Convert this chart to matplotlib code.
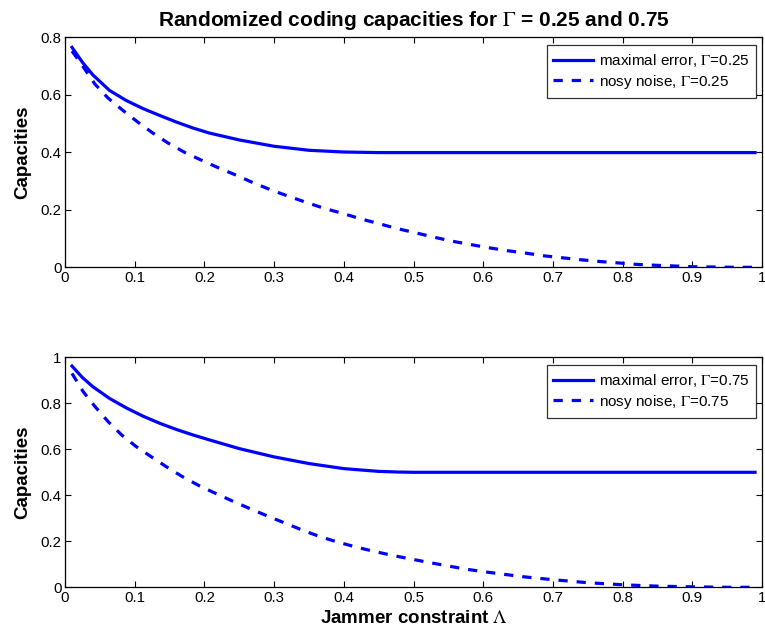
import matplotlib
matplotlib.use("Agg")
import matplotlib.pyplot as plt

plt.rcParams['font.family'] = ['Liberation Sans', 'DejaVu Sans']
plt.rcParams['mathtext.fontset'] = 'stix'

# ---- data ----
lam_max1 = [0.01, 0.025, 0.04, 0.064, 0.088, 0.112, 0.136, 0.16, 0.183, 0.207, 0.25, 0.30, 0.35, 0.40,
            0.45, 0.50, 0.60, 0.70, 0.80, 0.90, 0.99]
cap_max1 = [0.765, 0.713, 0.669, 0.615, 0.580, 0.552, 0.528, 0.505, 0.485, 0.467, 0.443, 0.421, 0.407, 0.401,
            0.399, 0.399, 0.399, 0.399, 0.399, 0.399, 0.399]

lam_nn1 = [0.01, 0.014, 0.029, 0.043, 0.062, 0.083, 0.105, 0.126, 0.148, 0.173, 0.198, 0.222, 0.247, 0.271, 0.299,
           0.322, 0.347, 0.372, 0.399, 0.425, 0.450, 0.476, 0.503, 0.529, 0.555, 0.582, 0.608, 0.634, 0.662,
           0.687, 0.714, 0.741, 0.768, 0.795, 0.821, 0.848, 0.875, 0.902, 0.930, 0.96, 0.99]
cap_nn1 = [0.752, 0.739, 0.687, 0.637, 0.588, 0.546, 0.504, 0.467, 0.432, 0.398, 0.370, 0.344, 0.319, 0.293, 0.266,
           0.246, 0.225, 0.205, 0.187, 0.168, 0.152, 0.135, 0.120, 0.105, 0.091, 0.079, 0.068, 0.058, 0.049,
           0.040, 0.033, 0.026, 0.020, 0.015, 0.010, 0.007, 0.0045, 0.002, 0.001, 0.0, 0.0]

lam_max2 = [0.01, 0.025, 0.04, 0.064, 0.088, 0.112, 0.136, 0.16, 0.183, 0.207, 0.25, 0.30, 0.35, 0.40,
            0.45, 0.48, 0.50, 0.60, 0.70, 0.80, 0.90, 0.99]
cap_max2 = [0.962, 0.912, 0.872, 0.821, 0.780, 0.744, 0.713, 0.686, 0.663, 0.641, 0.603, 0.567, 0.538, 0.516,
            0.504, 0.501, 0.500, 0.500, 0.500, 0.500, 0.500, 0.500]

lam_nn2 = [0.01, 0.026, 0.043, 0.062, 0.081, 0.102, 0.124, 0.145, 0.169, 0.193, 0.217, 0.244, 0.270, 0.296,
           0.315, 0.341, 0.366, 0.393, 0.419, 0.445, 0.471, 0.498, 0.524, 0.551, 0.577, 0.603, 0.631, 0.657,
           0.70, 0.75, 0.80, 0.85, 0.90, 0.95, 0.99]
cap_nn2 = [0.930, 0.851, 0.786, 0.720, 0.663, 0.612, 0.567, 0.525, 0.480, 0.441, 0.407, 0.370, 0.336, 0.303,
           0.280, 0.248, 0.220, 0.195, 0.174, 0.155, 0.138, 0.122, 0.107, 0.092, 0.078, 0.067, 0.056, 0.046,
           0.033, 0.020, 0.011, 0.005, 0.002, 0.0, 0.0]

xticks = [0, 0.1, 0.2, 0.3, 0.4, 0.5, 0.6, 0.7, 0.8, 0.9, 1]
xticklabels = ['0', '0.1', '0.2', '0.3', '0.4', '0.5', '0.6', '0.7', '0.8', '0.9', '1']
yticks1 = [0, 0.2, 0.4, 0.6, 0.8]
yticklabels1 = ['0', '0.2', '0.4', '0.6', '0.8']
yticks2 = [0, 0.2, 0.4, 0.6, 0.8, 1]
yticklabels2 = ['0', '0.2', '0.4', '0.6', '0.8', '1']

title = r'Randomized coding capacities for $\Gamma$ = 0.25 and 0.75'
labels1 = [r'maximal error, $\Gamma$=0.25', r'nosy noise, $\Gamma$=0.25']
labels2 = [r'maximal error, $\Gamma$=0.75', r'nosy noise, $\Gamma$=0.75']

W, H = 765, 635
fig = plt.figure(figsize=(W / 100, H / 100), dpi=100)
ax1 = fig.add_axes([65 / W, 1 - 267.3 / H, 697 / W, 230 / H])
ax2 = fig.add_axes([65 / W, 1 - 587.3 / H, 697 / W, 230 / H])

blue = '#0000ff'
LW = 2.3
dash = (2.9, 2.8)

def style(ax, yticks, yticklabels, ymax):
    ax.set_xlim(0, 1)
    ax.set_ylim(0, ymax)
    ax.set_xticks(xticks)
    ax.set_xticklabels(xticklabels)
    ax.set_yticks(yticks)
    ax.set_yticklabels(yticklabels)
    ax.tick_params(direction='in', length=4.3, width=0.8, top=True, right=True,
                   labelsize=10.8, colors='black')
    ax.tick_params(axis='y', pad=2.5)
    ax.tick_params(axis='x', pad=3)
    for s in ax.spines.values():
        s.set_linewidth(0.9)
    ax.set_ylabel('Capacities', fontsize=13.5, fontweight='bold', labelpad=7)

ax1.plot(lam_max1, cap_max1, color=blue, lw=LW, label=labels1[0])
ax1.plot(lam_nn1, cap_nn1, color=blue, lw=LW, linestyle=(0, dash), label=labels1[1])
style(ax1, yticks1, yticklabels1, 0.8)
ax1.set_title(title, fontsize=15, fontweight='bold', pad=8)

ax2.plot(lam_max2, cap_max2, color=blue, lw=LW, label=labels2[0])
ax2.plot(lam_nn2, cap_nn2, color=blue, lw=LW, linestyle=(0, dash), label=labels2[1])
style(ax2, yticks2, yticklabels2, 1.0)
ax2.set_xlabel(r'Jammer constraint $\Lambda$', fontsize=13.5, fontweight='bold', labelpad=3)

for ax, anchor_y in ((ax1, 45), (ax2, 365)):
    leg = ax.legend(loc='upper right', bbox_to_anchor=(756 / W, 1 - anchor_y / H),
                    bbox_transform=fig.transFigure, fontsize=11, frameon=True, fancybox=False,
                    edgecolor='black', handlelength=2.6, borderaxespad=0.0,
                    borderpad=0.45, labelspacing=0.25, handletextpad=0.35)
    leg.get_frame().set_linewidth(0.9)

fig.savefig('out.png', dpi=100)
